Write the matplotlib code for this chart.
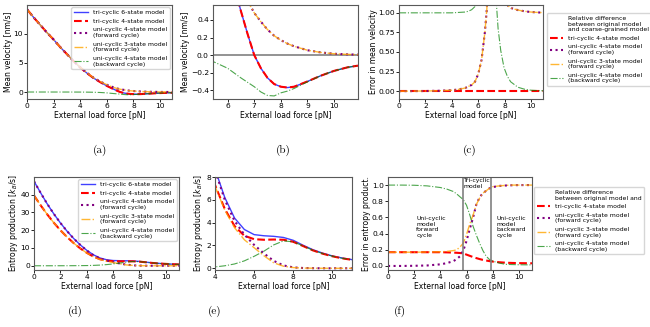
import numpy as np
import matplotlib.pyplot as plt

#######################################################
# values
#######################################################
# mean velocity [nm/s], panels (a) and (b)
Force_Vel = [0, 0.5, 1, 1.5, 2, 2.5, 3, 3.5, 4, 4.5, 5, 5.5, 6, 6.5, 6.75, 7,
             7.25, 7.5, 7.75, 8, 8.25, 8.5, 9, 9.5, 10, 10.5, 10.9]
Vel_Tri6 = [14.2, 12.8, 11.5, 10.2, 9.0, 7.7, 6.5, 5.3, 4.2, 3.25, 2.4, 1.7, 1.05, 0.5, 0.24, 0.0,
            -0.15, -0.26, -0.33, -0.36, -0.37, -0.36, -0.3, -0.235, -0.18, -0.14, -0.12]
Vel_Tri4 = list(Vel_Tri6)
Vel_Fwd4 = [14.2, 12.8, 11.5, 10.2, 9.0, 7.7, 6.5, 5.35, 4.25, 3.3, 2.45, 1.8, 1.25, 0.8, 0.62, 0.48,
            0.38, 0.29, 0.22, 0.17, 0.13, 0.1, 0.055, 0.03, 0.015, 0.008, 0.005]
Vel_Fwd3 = list(Vel_Fwd4)
Vel_Bwd4 = [0, 0, 0, 0, -0.001, -0.002, -0.003, -0.006, -0.01, -0.02, -0.04, -0.08, -0.15, -0.26, -0.31, -0.36,
            -0.42, -0.46, -0.465, -0.43, -0.41, -0.38, -0.305, -0.235, -0.18, -0.14, -0.12]

# relative error in mean velocity, panel (c)
Force_Err_Fwd = [0, 1, 2, 3, 4, 4.5, 5, 5.5, 5.75, 6, 6.25, 6.5, 6.65, 6.8, 7.0,
                 7.2, 7.6, 8.0, 8.25, 8.5, 9, 9.5, 10, 10.5, 10.9]
Err_Vel_Fwd = [0, 0.001, 0.002, 0.005, 0.012, 0.022, 0.04, 0.08, 0.12, 0.22, 0.4, 0.75, 1.05, 1.8, np.nan,
               3.0, 1.6, 1.2, 1.09, 1.06, 1.035, 1.02, 1.01, 1.005, 1.003]
Force_Err_Bwd = [0, 1, 2, 3, 4, 4.5, 5, 5.25, 5.5, 5.75, 6, 6.5, 7.0,
                 7.3, 7.4, 7.5, 7.7, 7.95, 8.2, 8.45, 9, 9.5, 10, 10.5, 10.9]
Err_Vel_Bwd = [1, 1, 1, 1, 1.0, 1.005, 1.01, 1.02, 1.04, 1.08, 1.16, 2.0, np.nan,
               1.35, 1.05, 0.8, 0.52, 0.3, 0.19, 0.12, 0.05, 0.025, 0.012, 0.008, 0.005]
Force_Err_Tri = [0, 10.9]
Err_Vel_Tri4 = [0.0, 0.0]

# entropy production [kB/s], panels (d) and (e)
Force_Ent = [0, 0.5, 1, 1.5, 2, 2.5, 3, 3.5, 4, 4.5, 5, 5.5, 6, 6.5, 7, 7.5, 8,
             8.5, 9, 9.5, 10, 10.5, 11]
Ent_Tri6 = [47.5, 41.0, 34.8, 29.2, 24.1, 19.5, 15.4, 11.8, 8.7, 6.2, 4.4, 3.4, 2.95, 2.85, 2.8, 2.7, 2.45,
            2.02, 1.63, 1.33, 1.08, 0.9, 0.76]
Ent_Tri4 = [39.5, 34.0, 28.9, 24.2, 20.0, 16.2, 12.8, 9.8, 7.3, 5.2, 3.7, 2.85, 2.55, 2.5, 2.52, 2.5, 2.32,
            1.95, 1.57, 1.28, 1.05, 0.87, 0.74]
Ent_Fwd4 = [47.5, 41.0, 34.8, 29.2, 24.1, 19.5, 15.4, 11.8, 8.6, 6.0, 4.15, 2.95, 2.05, 1.3, 0.65, 0.25, 0.08,
            0.025, 0.008, 0.003, 0.001, 0, 0]
Ent_Fwd3 = [39.5, 34.0, 28.9, 24.2, 20.0, 16.2, 12.8, 9.8, 7.2, 5.1, 3.55, 2.5, 1.8, 1.1, 0.48, 0.18, 0.06,
            0.02, 0.008, 0.003, 0.001, 0, 0]
Ent_Bwd4 = [0, 0.002, 0.005, 0.01, 0.02, 0.03, 0.05, 0.08, 0.12, 0.22, 0.38, 0.65, 1.05, 1.5, 2.05, 2.4, 2.32,
            1.96, 1.58, 1.29, 1.06, 0.88, 0.75]

# relative error in entropy production, panel (f)
Force_Rel = [0, 1, 2, 3, 4, 4.5, 5, 5.25, 5.5, 5.75, 6, 6.25, 6.5, 6.75, 7, 7.25, 7.5, 7.75, 8,
             8.5, 9, 9.5, 10, 10.5, 11]
Rel_Tri4 = [0.17, 0.17, 0.17, 0.17, 0.17, 0.168, 0.165, 0.163, 0.16, 0.155, 0.14, 0.125, 0.11, 0.097,
            0.085, 0.075, 0.067, 0.06, 0.054, 0.046, 0.04, 0.037, 0.035, 0.034, 0.033]
Rel_Fwd4 = [0, 0, 0.002, 0.006, 0.02, 0.035, 0.06, 0.085, 0.12, 0.19, 0.31, 0.46, 0.6, 0.76,
            0.85, 0.9, 0.93, 0.96, 0.975, 0.99, 0.995, 0.998, 1.0, 1.0, 1.0]
Rel_Fwd3 = [0.17, 0.17, 0.17, 0.172, 0.175, 0.18, 0.19, 0.2, 0.235, 0.28, 0.39, 0.52, 0.63, 0.76,
            0.84, 0.9, 0.93, 0.96, 0.98, 0.99, 0.997, 1.0, 1.0, 1.0, 1.0]
Rel_Bwd4 = [1.0, 1.0, 0.998, 0.99, 0.97, 0.95, 0.92, 0.89, 0.855, 0.82, 0.75, 0.63, 0.49, 0.38,
            0.28, 0.19, 0.12, 0.08, 0.06, 0.035, 0.02, 0.017, 0.015, 0.014, 0.013]

Boundaries_F = [5.7, 7.9]   # pN, regime boundaries in panel (f)

Labels = ['tri-cyclic 6-state model', 'tri-cyclic 4-state model',
          'uni-cyclic 4-state model\n(forward cycle)', 'uni-cyclic 3-state model\n(forward cycle)',
          'uni-cyclic 4-state model\n(backward cycle)']
#######################################################

Styles = [dict(color='blue', ls='-', lw=1.0, alpha=0.75),
          dict(color='red', ls='--', lw=1.5),
          dict(color='purple', ls=':', lw=1.5),
          dict(color='orange', ls='-.', lw=1.0, alpha=0.8),
          dict(color='green', ls='-.', lw=0.8, alpha=0.7)]

plt.rcParams['font.size'] = 5.5
plt.rcParams['mathtext.fontset'] = 'dejavusans'
Leg_Kw = dict(fontsize=4.4, handlelength=2.2, labelspacing=0.55, borderpad=0.45, edgecolor='0.8')

W, H = 650.0, 327.0
fig = plt.figure(figsize=(6.5, 3.27), dpi=100)

def add_ax(x0, x1, y0, y1):
    ax = fig.add_axes([x0 / W, 1 - y1 / H, (x1 - x0) / W, (y1 - y0) / H])
    for s in ax.spines.values():
        s.set_color('0.35')
        s.set_linewidth(0.8)
    ax.tick_params(length=2, width=0.6, pad=1, labelsize=5.4)
    ax.set_xlabel('External load force [pN]', labelpad=1)
    return ax

# (a)
ax = add_ax(27, 172, 5, 99)
for y, st, lab in zip([Vel_Tri6, Vel_Tri4, Vel_Fwd4, Vel_Fwd3, Vel_Bwd4], Styles, Labels):
    ax.plot(Force_Vel, y, label=lab, **st)
ax.set_xlim(0, 10.9)
ax.set_yticks([0, 5, 10])
ax.set_ylabel('Mean velocity [nm/s]', labelpad=0.5)
ax.legend(loc='upper right', borderaxespad=0.4, **Leg_Kw)

# (b)
ax = add_ax(213, 358, 5, 99)
ax.axhline(0, color='gray', lw=1.2)
for y, st in zip([Vel_Tri6, Vel_Tri4, Vel_Fwd4, Vel_Fwd3, Vel_Bwd4], Styles):
    ax.plot(Force_Vel, y, **st)
ax.set_xlim(5.45, 10.9)
ax.set_ylim(-0.5, 0.57)
ax.set_ylabel('Mean velocity [nm/s]', labelpad=0.5)

# (c)
ax = add_ax(399, 543, 5, 99)
ax.plot([], [], ' ', label='Relative difference\nbetween original model\nand coarse-grained model')
ax.plot(Force_Err_Tri, Err_Vel_Tri4, label=Labels[1], **Styles[1])
ax.plot(Force_Err_Fwd, Err_Vel_Fwd, label=Labels[2], **Styles[2])
ax.plot(Force_Err_Fwd, Err_Vel_Fwd, label=Labels[3], **Styles[3])
ax.plot(Force_Err_Bwd, Err_Vel_Bwd, label=Labels[4], **Styles[4])
ax.set_xlim(0, 10.9)
ax.set_ylim(-0.1, 1.1)
ax.set_yticks([0, 0.25, 0.5, 0.75, 1.0])
ax.set_ylabel('Error in mean velocity', labelpad=0.5)
ax.legend(loc='upper left', bbox_to_anchor=(547 / W, 1 - 13 / H), bbox_transform=fig.transFigure,
          borderaxespad=0, **Leg_Kw)

# (d)
ax = add_ax(34, 179, 177, 270)
for y, st, lab in zip([Ent_Tri6, Ent_Tri4, Ent_Fwd4, Ent_Fwd3, Ent_Bwd4], Styles, Labels):
    ax.plot(Force_Ent, y, label=lab, **st)
ax.set_xlim(0, 11)
ax.set_ylabel('Entropy production [$k_B$/s]', labelpad=0.5)
ax.legend(loc='upper right', borderaxespad=0.4, **Leg_Kw)

# (e)
ax = add_ax(215, 352, 177, 270)
for y, st in zip([Ent_Tri6, Ent_Tri4, Ent_Fwd4, Ent_Fwd3, Ent_Bwd4], Styles):
    ax.plot(Force_Ent, y, **st)
ax.set_xlim(4, 11)
ax.set_ylim(-0.15, 8)
ax.set_xticks([4, 6, 8, 10])
ax.set_ylabel('Entropy production [$k_B$/s]', labelpad=0.5)

# (f)
ax = add_ax(388, 532, 177, 270)
ax.plot([], [], ' ', label='Relative difference\nbetween original model and')
for y, st, lab in zip([Rel_Tri4, Rel_Fwd4, Rel_Fwd3, Rel_Bwd4], Styles[1:], Labels[1:]):
    ax.plot(Force_Rel, y, label=lab, **st)
for b in Boundaries_F:
    ax.axvline(b, color='gray', lw=1.2)
ax.text(2.15, 0.62, 'Uni-cyclic\nmodel\nforward\ncycle', fontsize=4.4, va='top', ha='left')
ax.text(5.8, 1.09, 'Tri-cyclic\nmodel', fontsize=4.4, va='top', ha='left')
ax.text(8.3, 0.62, 'Uni-cyclic\nmodel\nbackward\ncycle', fontsize=4.4, va='top', ha='left')
ax.set_xlim(0, 11)
ax.set_ylim(-0.05, 1.1)
ax.set_ylabel('Error in entropy product.', labelpad=0.5)
ax.legend(loc='upper left', bbox_to_anchor=(534 / W, 1 - 187 / H), bbox_transform=fig.transFigure,
          borderaxespad=0, **Leg_Kw)

# panel letters
for t, x, y in [('(a)', 100, 150), ('(b)', 283, 150), ('(c)', 470, 150),
                ('(d)', 75, 311), ('(e)', 215, 311), ('(f)', 400, 311)]:
    fig.text(x / W, 1 - y / H, t, fontsize=8, family='cmr10', ha='center', va='center')

plt.savefig('out.png', dpi=100)
